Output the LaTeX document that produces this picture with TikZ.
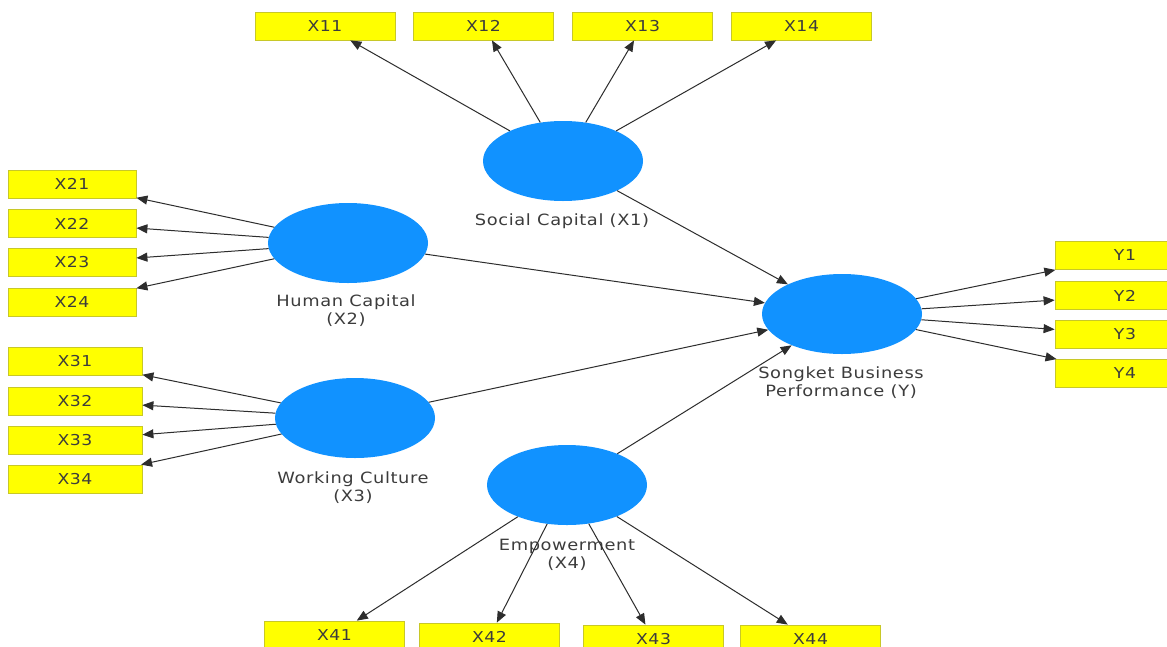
\documentclass[tikz,border=0pt]{standalone}
\usepackage{fontspec}
\setmainfont{DejaVu Sans}[LetterSpace=4,FakeStretch=1.15]
\usetikzlibrary{arrows.meta,shapes.geometric}
\definecolor{lvblue}{RGB}{17,146,255}
\definecolor{indyel}{RGB}{255,255,0}
\definecolor{indbrd}{RGB}{200,200,40}
\definecolor{txtc}{RGB}{60,60,60}
\definecolor{arrc}{RGB}{45,45,45}
\tikzset{
  latent/.style={ellipse, fill=lvblue, draw=none, minimum width=160pt, minimum height=80pt, inner sep=0pt},
  indbox/.style={rectangle, fill=indyel, draw=indbrd, line width=0.8pt, minimum width=140pt, minimum height=28pt, inner sep=0pt, font=\fontsize{15}{17}\selectfont, text=txtc},
  lvlabel/.style={align=center, font=\fontsize{15.5}{18}\selectfont, text=txtc, inner sep=0pt},
  path/.style={draw=arrc, line width=1pt, -{Triangle[length=11pt,width=9pt]}},
}
\begin{document}
\begin{tikzpicture}[x=1pt,y=-1pt]
\useasboundingbox (0,0) rectangle (1167,646);
\fill[white] (0,0) rectangle (1167,646);
% latent variables
\node[latent] (x1) at (563,161) {};
\node[latent] (x2) at (348,243) {};
\node[latent] (x3) at (355,418) {};
\node[latent] (x4) at (567,485) {};
\node[latent] (y) at (842,314) {};
% labels
\node[lvlabel] (lx1) at (562,221) {Social Capital (X1)};
\node[lvlabel] (lx2) at (346,311) {Human Capital\\(X2)};
\node[lvlabel] (lx3) at (353,488) {Working Culture\\(X3)};
\node[lvlabel] (lx4) at (567,555) {Empowerment\\(X4)};
\node[lvlabel] (ly) at (841,383) {Songket Business\\Performance (Y)};
% top indicators
\node[indbox] (i11) at (325,26) {X11};
\node[indbox] (i12) at (483.5,26) {X12};
\node[indbox] (i13) at (642.5,26) {X13};
\node[indbox] (i14) at (801.5,26) {X14};
% left indicators X2
\node[indbox, minimum width=128pt] (i21) at (72,184) {X21};
\node[indbox, minimum width=128pt] (i22) at (72,223.5) {X22};
\node[indbox, minimum width=128pt] (i23) at (72,262.5) {X23};
\node[indbox, minimum width=128pt] (i24) at (72,302) {X24};
% left indicators X3
\node[indbox, minimum width=134pt] (i31) at (75,361) {X31};
\node[indbox, minimum width=134pt] (i32) at (75,401) {X32};
\node[indbox, minimum width=134pt] (i33) at (75,440) {X33};
\node[indbox, minimum width=134pt] (i34) at (75,479) {X34};
% right indicators Y
\node[indbox] (iy1) at (1125,255.5) {Y1};
\node[indbox] (iy2) at (1125,295.5) {Y2};
\node[indbox] (iy3) at (1125,334.5) {Y3};
\node[indbox] (iy4) at (1125,373.5) {Y4};
% bottom indicators X4
\node[indbox] (i41) at (334.5,635) {X41};
\node[indbox] (i42) at (489.5,637) {X42};
\node[indbox] (i43) at (653.5,639) {X43};
\node[indbox] (i44) at (810.5,639) {X44};
% outer model arrows
\foreach \t in {i11,i12,i13,i14} \draw[path] (x1) -- (\t);
\foreach \t in {i21,i22,i23,i24} \draw[path] (x2) -- (\t);
\foreach \t in {i31,i32,i33,i34} \draw[path] (x3) -- (\t);
\foreach \t in {i41,i42,i43,i44} \draw[path] (x4) -- (\t);
\foreach \t in {iy1,iy2,iy3,iy4} \draw[path] (y) -- (\t);
% inner model arrows
\draw[path] (x1) -- (y);
\draw[path] (x2) -- (y);
\draw[path] (x3) -- (y);
\draw[path] (x4) -- (y);
\end{tikzpicture}
\end{document}
